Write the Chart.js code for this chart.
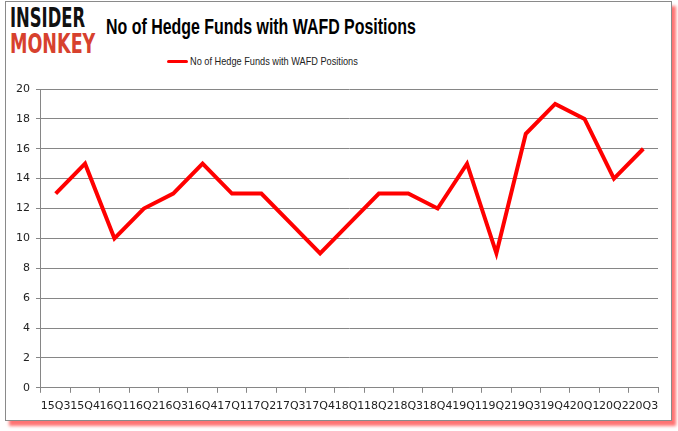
<!DOCTYPE html>
<html>
<head>
<meta charset="utf-8">
<script src="https://cdn.jsdelivr.net/npm/chart.js@4/dist/chart.umd.min.js"></script>
<style>
  body { margin: 0; background: #fff; }
  #wrap { position: relative; width: 678px; height: 431px; overflow: hidden; }
  #frame {
    position: absolute; left: 5px; top: 1px; width: 665px; height: 418px;
    border: 1px solid #8a8a8a; background: #fff;
    box-shadow: 4px 5px 3px rgba(255, 0, 0, 0.55);
  }
  .fit { position: absolute; white-space: nowrap; transform-origin: left top; }
  #logo1 { left: 10px; top: 3px; font-family: "DejaVu Sans"; font-weight: bold; font-size: 26px; color: #111; }
  #logo2 { left: 10px; top: 29px; font-family: "DejaVu Sans"; font-weight: bold; font-size: 26px; color: #d7412e; }
  #title { left: 106px; top: 14px; font-family: "Liberation Sans"; font-weight: bold; font-size: 22px; color: #000; }
  #legline { position: absolute; left: 167px; top: 60px; width: 21px; height: 3px; background: #ff0000; border-radius: 2px; }
  #legend { left: 190px; top: 55px; font-family: "Liberation Sans"; font-size: 11px; color: #222; }
  #c { position: absolute; left: 0; top: 0; }
</style>
</head>
<body>
<div id="wrap">
  <div id="frame"></div>
  <div id="logo1" class="fit" data-w="75">INSIDER</div>
  <div id="logo2" class="fit" data-w="85">MONKEY</div>
  <div id="title" class="fit" data-w="310">No of Hedge Funds with WAFD Positions</div>
  <div id="legline"></div>
  <div id="legend" class="fit" data-w="168">No of Hedge Funds with WAFD Positions</div>
  <canvas id="c" width="678" height="431"></canvas>
</div>
<script>
const quarters = ['15Q3', '15Q4', '16Q1', '16Q2', '16Q3', '16Q4', '17Q1', '17Q2', '17Q3', '17Q4', '18Q1',
                  '18Q2', '18Q3', '18Q4', '19Q1', '19Q2', '19Q3', '19Q4', '20Q1', '20Q2', '20Q3'];
const hedgeFunds = [13, 15, 10, 12, 13, 15, 13, 13, 11, 9, 11, 13, 13, 12, 15, 9, 17, 19, 18, 14, 16];
const seriesName = 'No of Hedge Funds with WAFD Positions';

// squeeze header texts to the widths seen in the reference
document.querySelectorAll('.fit').forEach(el => {
    el.style.transform = 'scaleX(' + (el.dataset.w / el.offsetWidth) + ')';
});

const ctx = document.getElementById('c').getContext('2d');
new Chart(ctx, {
    type: 'line',
    data: {
        labels: quarters,
        datasets: [{
            label: seriesName,
            data: hedgeFunds,
            borderColor: '#ff0000',
            borderWidth: 4,
            pointRadius: 0,
            tension: 0,
            fill: false
        }]
    },
    options: {
        responsive: false,
        animation: false,
        layout: { padding: { left: 10, right: 20, top: 89, bottom: 11 } },
        plugins: { legend: { display: false }, tooltip: { enabled: false } },
        scales: {
            x: {
                offset: true,
                grid: { offset: true, drawOnChartArea: false, drawTicks: true, tickLength: 5, color: '#868686' },
                border: { color: '#868686' },
                ticks: { autoSkip: false, maxRotation: 0, color: '#222', font: { family: 'DejaVu Sans', size: 11 }, padding: 7 }
            },
            y: {
                min: 0,
                max: 20,
                ticks: { stepSize: 2, color: '#222', font: { family: 'DejaVu Sans', size: 11 }, padding: 6 },
                grid: { color: '#868686', tickLength: 5 },
                border: { color: '#868686' }
            }
        }
    }
});
</script>
</body>
</html>
